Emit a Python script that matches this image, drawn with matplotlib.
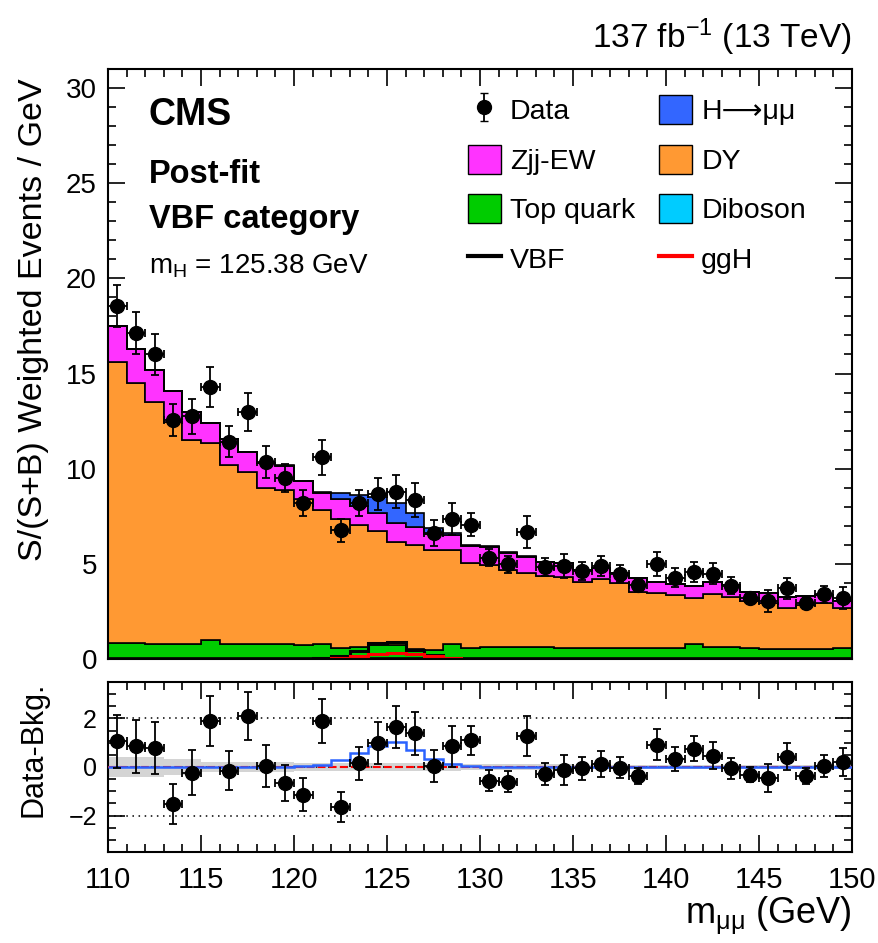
import matplotlib
matplotlib.use("Agg")
import matplotlib.pyplot as plt
import numpy as np
from matplotlib.patches import Patch
from matplotlib.lines import Line2D
from matplotlib.ticker import MultipleLocator

plt.rcParams['font.family'] = ['Liberation Sans', 'DejaVu Sans']
plt.rcParams['mathtext.fontset'] = 'custom'
plt.rcParams['mathtext.rm'] = 'Liberation Sans'
plt.rcParams['mathtext.it'] = 'Liberation Sans:italic'
plt.rcParams['mathtext.bf'] = 'Liberation Sans:bold'

# 1 GeV bins, 110 -> 150
bin_edges = list(range(110, 151))

data = [18.55, 17.15, 16.0, 12.56, 12.76, 14.29, 11.41, 13.0, 10.34, 9.52,
        8.19, 10.59, 6.77, 8.2, 8.66, 8.79, 8.34, 6.62, 7.37, 7.06,
        5.33, 4.98, 6.67, 4.83, 4.9, 4.62, 4.89, 4.48, 3.87, 4.99,
        4.27, 4.56, 4.48, 3.84, 3.23, 3.04, 3.71, 2.94, 3.41, 3.21]
data_err = [1.1, 1.1, 1.07, 0.83, 0.92, 1.04, 0.81, 1.0, 0.85, 0.74,
            0.67, 0.9, 0.6, 0.69, 0.85, 0.88, 0.9, 0.67, 0.83, 0.6,
            0.43, 0.44, 0.82, 0.45, 0.62, 0.47, 0.54, 0.44, 0.33, 0.64,
            0.49, 0.52, 0.56, 0.45, 0.3, 0.59, 0.54, 0.33, 0.45, 0.58]

diboson = [0.03, 0.03, 0.03, 0.03, 0.03, 0.03, 0.03, 0.03, 0.03, 0.03,
           0.03, 0.03, 0.03, 0.03, 0.03, 0.03, 0.03, 0.03, 0.03, 0.03,
           0.03, 0.03, 0.03, 0.03, 0.03, 0.03, 0.03, 0.03, 0.03, 0.03,
           0.03, 0.03, 0.03, 0.03, 0.03, 0.03, 0.03, 0.03, 0.03, 0.03]
top_quark = [0.80, 0.80, 0.76, 0.76, 0.74, 0.98, 0.76, 0.78, 0.74, 0.78,
             0.72, 0.76, 0.55, 0.60, 0.68, 0.68, 0.50, 0.45, 0.76, 0.56,
             0.62, 0.58, 0.58, 0.58, 0.56, 0.56, 0.56, 0.56, 0.56, 0.56,
             0.56, 0.74, 0.58, 0.58, 0.56, 0.48, 0.50, 0.50, 0.52, 0.56]
dy = [14.77, 13.67, 12.71, 11.67, 10.73, 10.34, 9.41, 8.99, 8.23, 8.09,
      7.65, 7.06, 6.77, 6.42, 6.04, 5.43, 5.47, 5.26, 4.95, 4.45,
      4.30, 4.07, 3.93, 3.76, 3.74, 3.43, 3.60, 3.39, 2.95, 2.87,
      2.78, 2.42, 2.81, 2.67, 2.43, 2.45, 2.14, 2.31, 2.38, 2.08]
zjj_ew = [1.90, 1.80, 1.70, 1.61, 1.50, 1.05, 1.36, 1.10, 1.30, 1.26,
          0.93, 0.85, 1.07, 1.00, 0.92, 1.00, 0.96, 0.84, 0.78, 0.92,
          0.95, 0.91, 0.84, 0.75, 0.70, 0.66, 0.58, 0.53, 0.71, 0.61,
          0.58, 0.62, 0.60, 0.62, 0.52, 0.53, 0.61, 0.48, 0.44, 0.35]
h_mumu = [0.0, 0.0, 0.0, 0.0, 0.0, 0.0, 0.0, 0.0, 0.01, 0.02,
          0.04, 0.10, 0.28, 0.56, 0.86, 1.04, 0.69, 0.31, 0.12, 0.05,
          0.02, 0.01, 0.01, 0.0, 0.0, 0.0, 0.0, 0.0, 0.0, 0.0,
          0.0, 0.0, 0.0, 0.0, 0.0, 0.0, 0.0, 0.0, 0.0, 0.0]
vbf = [0.0, 0.0, 0.0, 0.0, 0.0, 0.0, 0.0, 0.0, 0.0, 0.0,
       0.0, 0.06, 0.15, 0.42, 0.82, 0.88, 0.49, 0.20, 0.06, 0.0,
       0.0, 0.0, 0.0, 0.0, 0.0, 0.0, 0.0, 0.0, 0.0, 0.0,
       0.0, 0.0, 0.0, 0.0, 0.0, 0.0, 0.0, 0.0, 0.0, 0.0]
ggh = [0.0, 0.0, 0.0, 0.0, 0.0, 0.0, 0.0, 0.0, 0.0, 0.0,
       0.0, 0.02, 0.06, 0.15, 0.28, 0.30, 0.24, 0.15, 0.05, 0.02,
       0.0, 0.0, 0.0, 0.0, 0.0, 0.0, 0.0, 0.0, 0.0, 0.0,
       0.0, 0.0, 0.0, 0.0, 0.0, 0.0, 0.0, 0.0, 0.0, 0.0]
# bkg. uncertainty (+-) for the ratio panel band
bkg_unc = [0.40, 0.40, 0.40, 0.33, 0.33, 0.22, 0.22, 0.22, 0.20, 0.20,
           0.18, 0.18, 0.18, 0.16, 0.16, 0.16, 0.15, 0.15, 0.15, 0.14,
           0.12, 0.12, 0.12, 0.11, 0.11, 0.10, 0.10, 0.10, 0.10, 0.10,
           0.10, 0.10, 0.10, 0.10, 0.10, 0.10, 0.10, 0.10, 0.10, 0.10]

edges = np.array(bin_edges)
centers = edges[:-1] + 0.5

fig = plt.figure(figsize=(8.79, 9.43), dpi=100)
ax = fig.add_axes([0.1229, 0.3012, 0.8464, 0.6256])
rax = fig.add_axes([0.1229, 0.0965, 0.8464, 0.1803])

# stacked histogram, bottom to top
stack = [(diboson, '#00ccff'), (top_quark, '#00cc00'), (dy, '#ff9933'),
         (zjj_ew, '#ff33ff'), (h_mumu, '#3366ff')]
base = np.zeros(len(centers))
for vals, col in stack:
    top = base + np.array(vals)
    ax.stairs(top, edges, baseline=base, fill=True, facecolor=col,
              edgecolor='black', linewidth=1.2, zorder=2)
    base = top

ax.stairs(vbf, edges, color='black', linewidth=2.2, zorder=2.3)
ax.stairs(ggh, edges, color='red', linewidth=2.2, zorder=2.4)

ax.errorbar(centers, data, yerr=data_err, xerr=0.5, fmt='o', color='black',
            ms=10, capsize=3, elinewidth=1.3, capthick=1.3, zorder=5)

# ratio panel
bkg = np.array(diboson) + np.array(top_quark) + np.array(dy) + np.array(zjj_ew)
resid = np.array(data) - bkg
unc = np.append(bkg_unc, bkg_unc[-1])
rax.fill_between(edges, -unc, unc, step='post', color='#d4d4d4', lw=0, zorder=1)
for yv in (-2, 0, 2):
    rax.axhline(yv, color='black', ls=(0, (1, 3)), lw=1.1, zorder=2)
rax.axhline(0, color='red', ls='--', lw=1.5, zorder=3)
rax.stairs(h_mumu, edges, color='#2a62ff', linewidth=1.8, zorder=4)
rax.errorbar(centers, resid, yerr=data_err, xerr=0.5, fmt='o', color='black',
             ms=10, capsize=3, elinewidth=1.3, capthick=1.3, zorder=5)

for a in (ax, rax):
    a.set_xlim(110, 150)
    a.xaxis.set_major_locator(MultipleLocator(5))
    a.xaxis.set_minor_locator(MultipleLocator(1))
    a.tick_params(which='both', direction='in', top=True, right=True)
    a.tick_params(which='major', length=12, width=1.2)
    a.tick_params(which='minor', length=6, width=1.2)
    for s in a.spines.values():
        s.set_linewidth(1.5)

ax.set_ylim(0, 31)
ax.yaxis.set_major_locator(MultipleLocator(5))
ax.yaxis.set_minor_locator(MultipleLocator(1))
ax.tick_params(labelbottom=False, labelsize=20, pad=8)

rax.set_ylim(-3.5, 3.5)
rax.yaxis.set_major_locator(MultipleLocator(2))
rax.yaxis.set_minor_locator(MultipleLocator(0.5))
rax.tick_params(axis='x', labelsize=21, pad=10)
rax.tick_params(axis='y', labelsize=18, pad=8)

ax.set_ylabel('S/(S+B) Weighted Events / GeV', fontsize=24.5, loc='top')
ax.yaxis.set_label_coords(-0.08, 0.985)
rax.set_ylabel('Data-Bkg.', fontsize=22, loc='top')
rax.yaxis.set_label_coords(-0.08, 1.0)
rax.set_xlabel(r'm$_{\mathrm{\mu\mu}}$ (GeV)', fontsize=26, loc='right')
rax.xaxis.set_label_coords(1.0, -0.25)

fig.text(852 / 879, 1 - 48 / 943, r'137 fb$^{-1}$ (13 TeV)', ha='right',
         va='baseline', fontsize=24)
fig.text(149 / 879, 1 - 125 / 943, 'CMS', fontsize=27, fontweight='bold')
fig.text(149 / 879, 1 - 183 / 943, 'Post-fit', fontsize=23.5, fontweight='bold')
fig.text(149 / 879, 1 - 228 / 943, 'VBF category', fontsize=23.5, fontweight='bold')
fig.text(149 / 879, 1 - 273 / 943, r'm$_{\mathrm{H}}$ = 125.38 GeV', fontsize=20)

# legend, filled column by column
data_h = ax.errorbar([np.nan], [np.nan], yerr=[1], fmt='o', color='black',
                     ms=10, capsize=3, elinewidth=1.3)
handles = [data_h,
           Patch(facecolor='#ff33ff', edgecolor='black', lw=1),
           Patch(facecolor='#00cc00', edgecolor='black', lw=1),
           Line2D([], [], color='black', lw=3),
           Patch(facecolor='#3366ff', edgecolor='black', lw=1),
           Patch(facecolor='#ff9933', edgecolor='black', lw=1),
           Patch(facecolor='#00ccff', edgecolor='black', lw=1),
           Line2D([], [], color='red', lw=3)]
labels = ['Data', 'Zjj-EW', 'Top quark', 'VBF',
          'H\u27f6\u03bc\u03bc', 'DY', 'Diboson', 'ggH']
ax.legend(handles, labels, ncol=2, loc='upper left',
          bbox_to_anchor=(468 / 879, 1 - 95 / 943), bbox_transform=fig.transFigure,
          frameon=False, fontsize=20.5, handlelength=1.15, handleheight=1.2,
          handletextpad=0.32, columnspacing=0.85, labelspacing=0.68,
          borderpad=0, borderaxespad=0)

fig.savefig('out.png', dpi=100)
